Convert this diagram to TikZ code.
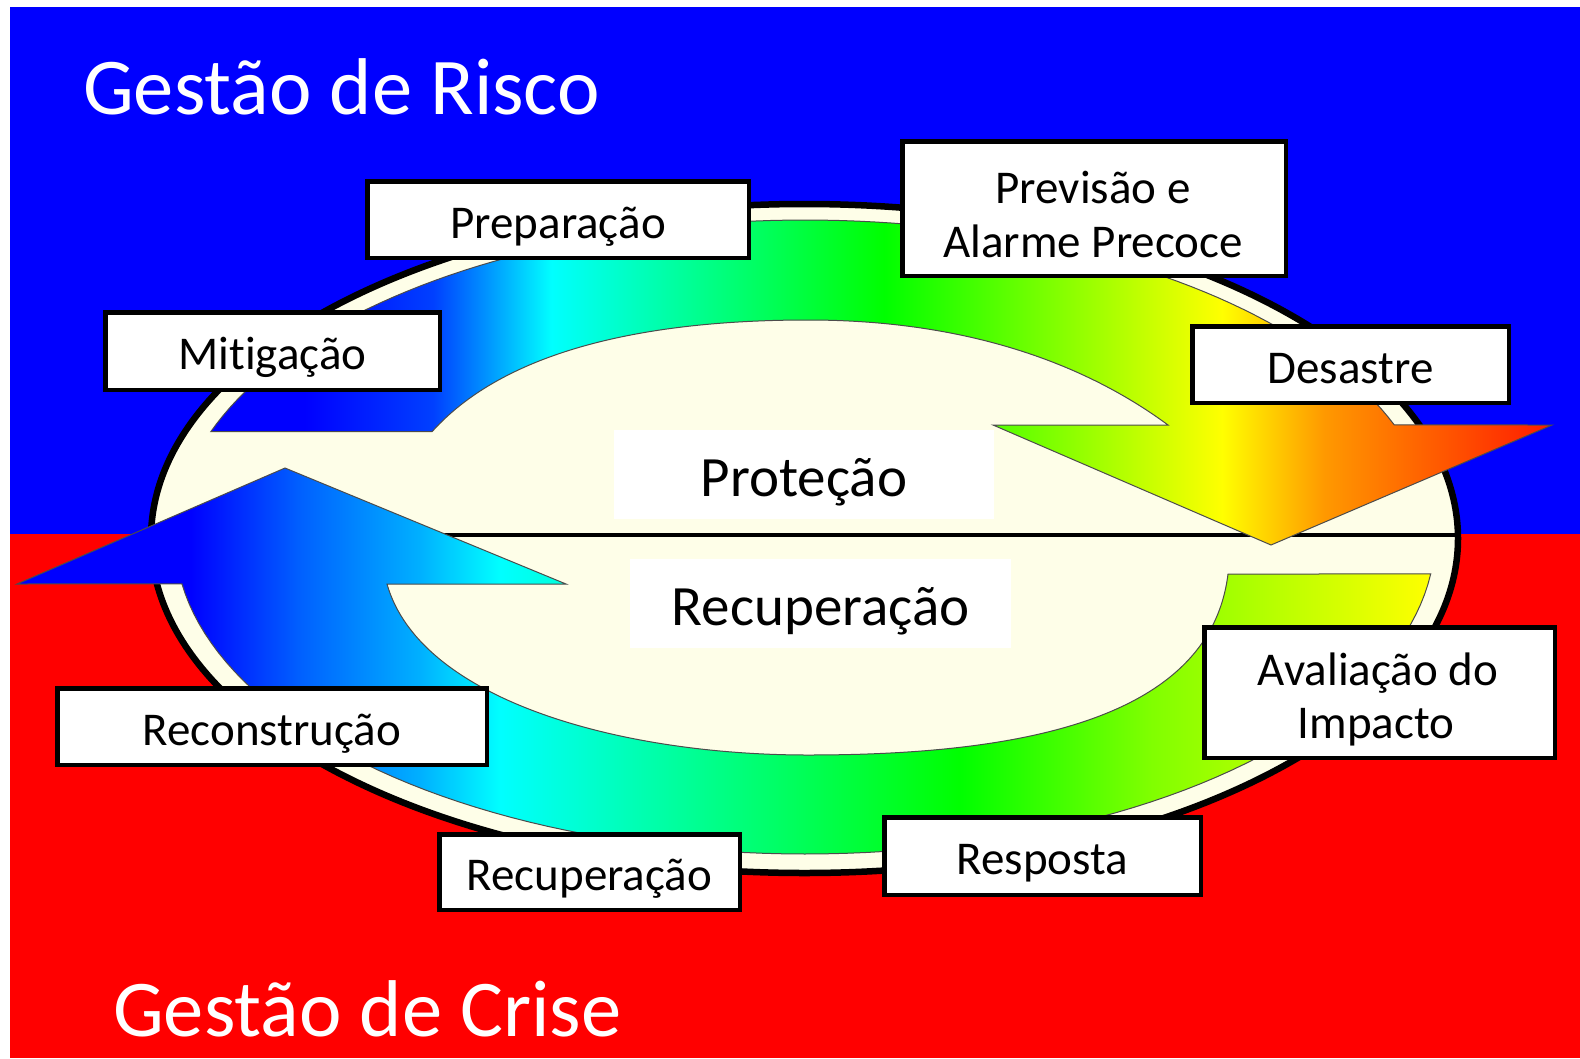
\documentclass[tikz,border=0pt]{standalone}
\usepackage{fontspec}
\setmainfont{Carlito}[Ligatures={NoCommon,NoContextual}]
\usetikzlibrary{shapes.geometric}
\definecolor{cream}{RGB}{254,254,232}
\definecolor{bgblue}{RGB}{0,0,255}
\definecolor{bgred}{RGB}{255,0,0}
\definecolor{gA}{RGB}{0,64,255}
\definecolor{gB}{RGB}{0,144,255}
\definecolor{gC}{RGB}{0,96,255}
\definecolor{gD}{RGB}{0,176,255}
\definecolor{gOr}{RGB}{255,153,0}
\definecolor{gRd}{RGB}{255,26,0}
\definecolor{gYG}{RGB}{128,255,0}
\definecolor{pcyan}{RGB}{0,255,255}
\definecolor{pgreen}{RGB}{0,255,0}
\definecolor{pyellow}{RGB}{255,255,0}
\pgfdeclarehorizontalshading{topband}{100bp}{color(0bp)=(bgblue); color(28.5bp)=(bgblue); color(33.3bp)=(gA); color(35.2bp)=(gB); color(37.7bp)=(pcyan); color(50.1bp)=(pgreen); color(62.7bp)=(pyellow); color(66.5bp)=(gOr); color(75bp)=(gRd); color(100bp)=(gRd)}
\pgfdeclarehorizontalshading{botband}{100bp}{color(0bp)=(bgblue); color(31.1bp)=(bgblue); color(35bp)=(gC); color(39.25bp)=(gD); color(42.1bp)=(pcyan); color(58.35bp)=(pgreen); color(65.1bp)=(gYG); color(75bp)=(pyellow); color(100bp)=(pyellow)}
\tikzset{
  box/.style={draw=black, line width=4.5pt, fill=white, inner sep=0pt,
    font=\fontsize{47}{56}\selectfont, text height=37.6pt, text depth=0pt},
  lbl/.style={inner sep=0pt, anchor=base, font=\fontsize{47}{56}\selectfont},
  midlbl/.style={fill=white, inner sep=0pt, minimum width=380pt, minimum height=89pt,
    font=\fontsize{57}{68}\selectfont, text height=43pt, text depth=0pt},
  title/.style={inner sep=0pt, anchor=base west, text=white, font=\fontsize{80.5}{96}\selectfont},
  band/.style={draw=black!70, line width=1pt}
}
\begin{document}
\begin{tikzpicture}[x=1pt,y=-1pt]
\useasboundingbox (0,0) rectangle (1580,1058);
\fill[white] (0,0) rectangle (1580,1058);
\fill[bgblue] (10,7) rectangle (1580,534);
\fill[bgred] (10,534) rectangle (1580,1058);

\node[ellipse, draw=black, line width=6.5pt, fill=cream, inner sep=0pt,
  minimum width=1307pt, minimum height=669pt] (oval) at (804.5,538.5) {};
\draw[line width=4pt] ([yshift=3.5pt]oval.west) -- ([yshift=3.5pt]oval.east);

% top arrow
\shadedraw[shading=topband, band]
  (432,431.7) -- plot[domain=160.6:20.7, samples=90] ({805+630*cos(\x)},{537-317*sin(\x)})
  -- (1552,425) -- (1271,545) -- (993,425) -- (1168,425)
  .. controls (1080,360) and (960,320) .. (808,320)
  .. controls (660,320) and (510,345) .. (432,431.7) -- cycle;

% bottom arrow
\shadedraw[shading=botband, band]
  (387,584) -- (566,584) -- (285,468) -- (17,584)
  -- plot[domain=188.5:353.3, samples=90] ({805+630*cos(\x)},{537-317*sin(\x)})
  -- (1228,574)
  .. controls (1210,720) and (1020,755) .. (808,755)
  .. controls (620,755) and (420,700) .. (387,584) -- cycle;

\node[midlbl] (prot) at (804,474.5) {Proteção};
\node[midlbl, minimum width=381pt] (recmid) at (820.5,603.5) {Recuperação};

\node[box, minimum width=381.5pt, minimum height=76.5pt] (prep) at (558,219.5) {Preparação};
\node[box, minimum width=334.5pt, minimum height=77.5pt] (mitig) at (272.5,351) {Mit\kern0pt igação};
\node[box, minimum width=383.5pt, minimum height=134.5pt] (prev) at (1094,208.5) {};
\node[lbl] (prevA) at (1093,203) {Previsão e};
\node[lbl] (prevB) at (1093,257) {Alarme Precoce};
\node[box, minimum width=316.5pt, minimum height=76.5pt] (desas) at (1350.5,364.5) {Desastre};
\node[box, minimum width=350.5pt, minimum height=130.5pt] (aval) at (1379.5,692.5) {};
\node[lbl] (avalA) at (1378,685) {Avaliação do};
\node[lbl] (avalB) at (1376,738) {Impacto};
\node[box, minimum width=316.5pt, minimum height=77.5pt] (resp) at (1042.5,856) {Resposta};
\node[box, minimum width=300.5pt, minimum height=75.5pt] (recup) at (589.5,872) {Recuperação};
\node[box, minimum width=429.5pt, minimum height=76.5pt] (recon) at (272,726.5) {Reconstrução};

\node[title] (risco) at (83,114) {Gestão de Risco};
\node[title] (crise) at (113,1036.5) {Gestão de Crise};
\end{tikzpicture}
\end{document}
